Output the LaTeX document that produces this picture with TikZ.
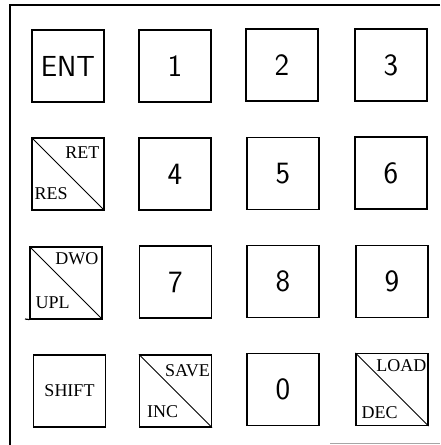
\documentclass[tikz,border=0pt]{standalone}
\usepackage{fontspec}
\setmainfont{Liberation Serif}
\begin{document}
\begin{tikzpicture}[x=1pt,y=-1pt,
  key/.style={draw, line width=1.2pt, minimum width=72pt, minimum height=72pt, inner sep=0pt},
  digit/.style={key, font=\fontsize{31}{31}\sffamily},
  lbl/.style={inner sep=0pt, font=\fontsize{18}{18}\selectfont},
  frame/.style={line width=1.3pt}]
\useasboundingbox (0,0) rectangle (440,445);
% frame
\coordinate (fTR) at (440,5);
\coordinate (fTL) at (10,5);
\coordinate (fBL) at (10,445);
\draw[frame] (fTR) -- (fTL) -- (fBL);
\coordinate (bA) at (330,443);
\coordinate (bB) at (440,443);
\draw[line width=1pt, black!35] (bA) -- (bB);
% row 1
\node[digit, font=\fontsize{29}{29}\sffamily] (kent) at (68,66) {ENT};
\node[digit] (k1) at (175,66) {1};
\node[digit] (k2) at (282,65) {2};
\node[digit] (k3) at (391,65) {3};
% row 2
\node[key] (kret) at (68,174) {};
\node[digit] (k4) at (175,174) {4};
\node[digit] (k5) at (283,173.5) {5};
\node[digit] (k6) at (391,173) {6};
% row 3
\node[key] (kdwo) at (66,283) {};
\node[digit] (k7) at (175.5,282) {7};
\node[digit] (k8) at (283,281.5) {8};
\node[digit] (k9) at (392,281.5) {9};
% row 4
\node[key, font=\fontsize{18}{18}\selectfont] (kshift) at (69.5,391) {SHIFT};
\node[key] (ksave) at (175.5,391) {};
\node[digit] (k0) at (283,389.5) {0};
\node[key] (kload) at (392,389.5) {};
% diagonals
\foreach \k in {kret,kdwo,ksave,kload}
  \draw[line width=1pt] (\k.north west) -- (\k.south east);
% extra bottom stroke of DWO key
\coordinate (dwoL) at (25,319);
\draw[line width=1.2pt] (dwoL) -- (kdwo.south west);
% labels
\node[lbl, anchor=base east] (tret) at ([xshift=-5pt,yshift=-21pt]kret.north east) {RET};
\node[lbl, anchor=base west] (tres) at ([xshift=3pt,yshift=11pt]kret.south west) {RES};
\node[lbl, anchor=base east] (tdwo) at ([xshift=-4pt,yshift=-18pt]kdwo.north east) {DWO};
\node[lbl, anchor=base west] (tupl) at ([xshift=6pt,yshift=11pt]kdwo.south west) {UPL};
\node[lbl, anchor=base east] (tsave) at ([xshift=-2pt,yshift=-22pt]ksave.north east) {SAVE};
\node[lbl, anchor=base west] (tinc) at ([xshift=8pt,yshift=10pt]ksave.south west) {INC};
\node[lbl, anchor=base east] (tload) at ([xshift=-2pt,yshift=-19pt]kload.north east) {LOAD};
\node[lbl, anchor=base west] (tdec) at ([xshift=6pt,yshift=8pt]kload.south west) {DEC};
\end{tikzpicture}
\end{document}
